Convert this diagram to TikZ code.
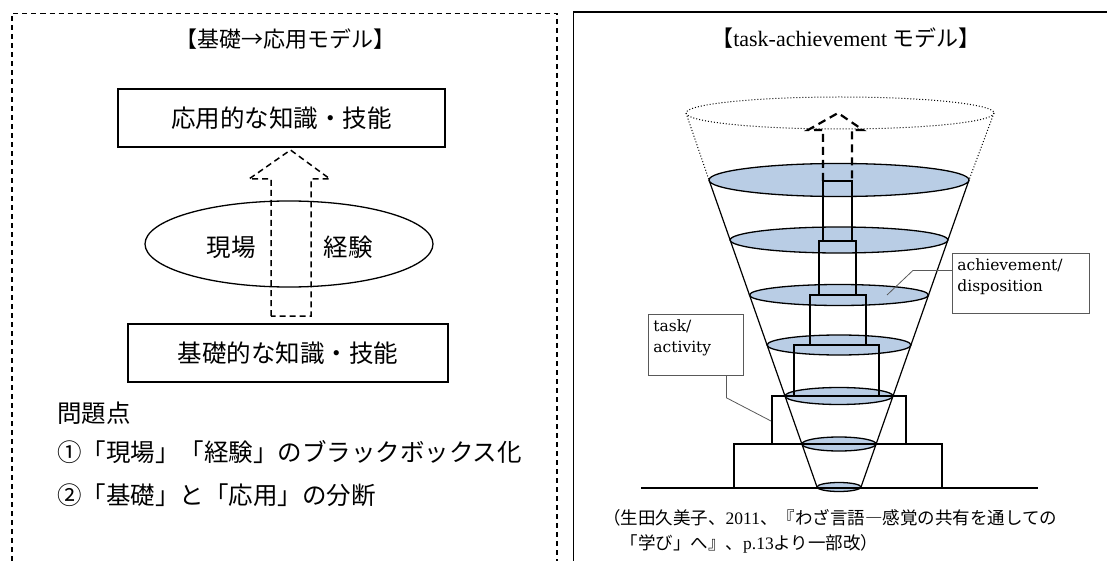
\documentclass[tikz,border=0pt]{standalone}
\usepackage{fontspec}
\setmainfont{Liberation Serif}
\newfontfamily\jp{Noto Sans CJK JP}
\newfontfamily\lblfont{DejaVu Serif}
\usetikzlibrary{shapes.geometric}
\definecolor{layerblue}{RGB}{185,205,229}
\tikzset{
  jpbox/.style={draw, line width=1.5pt, inner sep=0pt, font=\jp\fontsize{24.5}{30}\selectfont},
  jptext/.style={inner sep=0pt, font=\jp\fontsize{24.5}{30}\selectfont},
  blockarrow/.style={line width=1.5pt, dash pattern=on 6pt off 4pt},
  layer/.style={draw, fill=layerblue, line width=1.3pt},
  tower/.style={line width=2.2pt},
  lblbox/.style={draw=gray!70!black, line width=0.8pt, inner sep=5pt, font=\lblfont\fontsize{15.5}{21}\selectfont},
  leader/.style={gray!70!black, line width=0.8pt}
}
\begin{document}
\begin{tikzpicture}[x=1pt,y=-1pt]
\useasboundingbox (0,0) rectangle (1107,561);

% left panel
\draw[line width=1.2pt, dash pattern=on 5pt off 4pt] (12,561) -- (12,13.5) -- (557,13.5) -- (557,561);
\node[font=\jp\fontsize{22}{26}\selectfont] (basetitle) at (285,39) {【基礎→応用モデル】};
\node[jpbox, minimum width=327pt, minimum height=58pt] (applied) at (281.5,118) {応用的な知識・技能};
\node[jpbox, minimum width=320pt, minimum height=58pt] (basic) at (288,353) {基礎的な知識・技能};
\node[draw, ellipse, line width=1.3pt, minimum width=288pt, minimum height=86pt] (field) at (289,244) {};
\node[jptext] (genba) at (231,247) {現場};
\node[jptext] (keiken) at (348,247) {経験};
\draw[blockarrow] (271,316) -- (271,179) -- (249,179) -- (290.5,150) -- (330,179) -- (311,179) -- (311,316) -- cycle;

\node[jptext, anchor=west] (issues) at (57,413) {問題点};
\node[jptext, anchor=west] (issue1) at (57,452) {①「現場」「経験」のブラックボックス化};
\node[jptext, anchor=west] (issue2) at (57,495) {②「基礎」と「応用」の分断};

% right panel
\draw[line width=1.5pt] (573.5,561) -- (573.5,12) -- (1107,12);
\node[font=\fontsize{22}{26}\selectfont] (tasktitle) at (846,38) {{\jp 【}task-achievement {\jp モデル】}};

% funnel
\draw[line width=1pt, dotted] (840,113) ellipse (154 and 16);
\draw[line width=1pt, dotted] (686,113) -- (709,180) (994,113) -- (969,180);
\draw[line width=1.2pt] (709,180) -- (817,487) (969,180) -- (861,487);
\foreach \y/\ry in {180/16.5, 240/13, 295/10.5, 345/10, 396/8.5, 444/7, 487/4.5} {
  \pgfmathsetmacro\rx{130-0.352*(\y-180)}
  \draw[layer] (839,\y) ellipse (\rx pt and \ry pt);
}

% tower
\foreach \xa/\ya/\xb/\yb in {823/181/852/241, 819/241/856/295, 810/295/866/345, 794/345/879/396, 772/396/906/444, 734/444/942/488}
  \draw[tower] (\xa,\ya) rectangle (\xb,\yb);
\draw[tower] (641,488) -- (1038,488);
\draw[tower, dash pattern=on 8pt off 5pt] (823,181) -- (823,130) -- (808,130) -- (838,113) -- (863,130) -- (852,130) -- (852,181);

% labels
\node[lblbox, anchor=north west] (achbox) at (952,253) {\parbox[c][50pt][t]{127pt}{\raggedright achievement/\\disposition}};
\node[lblbox, anchor=north west] (taskbox) at (648,314) {\parbox[c][51pt][t]{85pt}{\raggedright task/\\activity}};
\coordinate (achpt) at (887,295);
\coordinate (taskpt) at (771,421);
\draw[leader] ([yshift=13pt]achbox.west) -- ++(-39,0) -- (achpt);
\draw[leader] ([xshift=30.5pt]taskbox.south) -- ++(0,22) -- (taskpt);

\node[anchor=north west, inner sep=0pt, align=left, font=\fontsize{17.5}{25}\selectfont] (source) at (603,509)
  {{\jp （生田久美子、}2011{\jp 、『わざ言語―感覚の共有を通しての}\\\hspace*{1em}{\jp 「学び」へ』、}p.13{\jp より一部改）}};
\end{tikzpicture}
\end{document}
